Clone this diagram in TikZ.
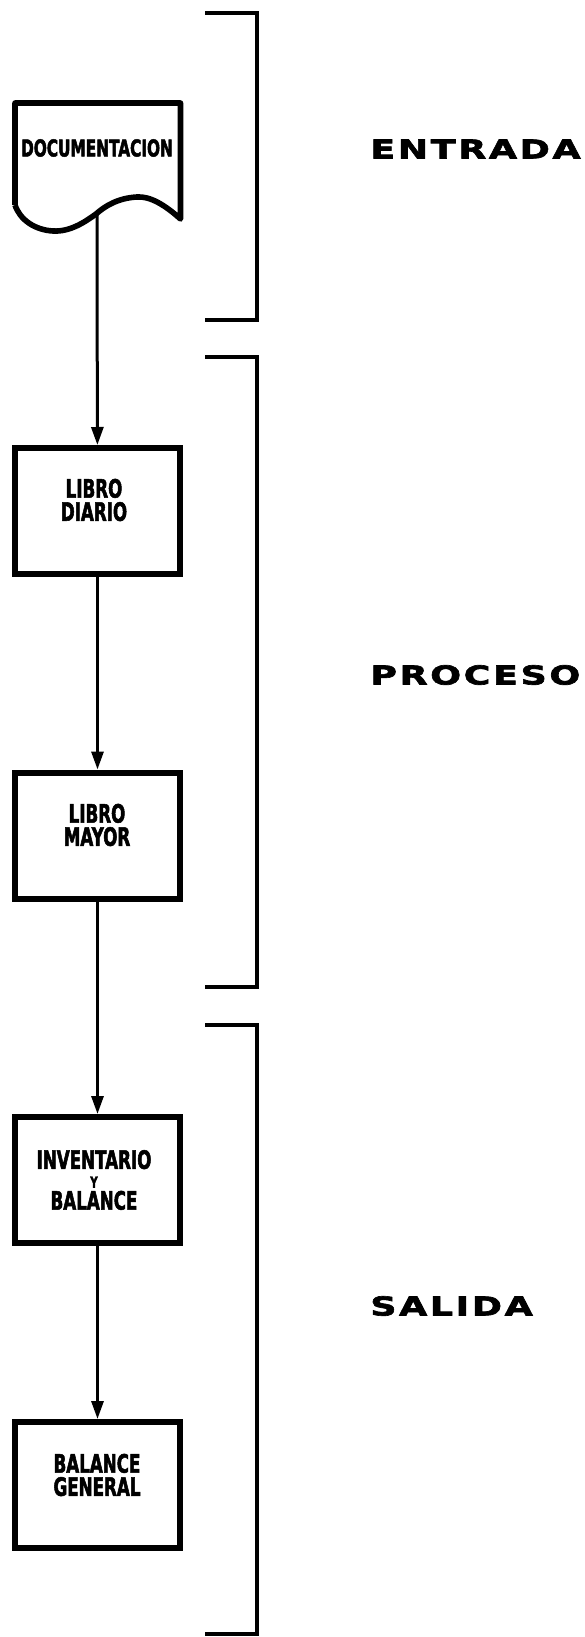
\documentclass[tikz,border=0pt]{standalone}
\usepackage{fontspec}
\usepackage{tikz}
\usetikzlibrary{arrows.meta,positioning,calc}
\newfontfamily\boxfont[FakeStretch=0.66,FakeBold=2]{DejaVu Sans}
\newfontfamily\tagfont[FakeStretch=1.4,LetterSpace=10,FakeBold=2.5]{DejaVu Sans}
\tikzset{
  flow/box/.style={draw, line width=1.5mm, minimum width=41.25mm, minimum height=31.5mm, inner sep=0pt},
  flow/doc/.style={line width=1.4mm, line join=round},
  flow/text/.style={font=\boxfont\bfseries\fontsize{18}{16.5}\selectfont, align=center, inner sep=0pt},
  flow/tag/.style={font=\tagfont\bfseries\fontsize{18.5}{20}\selectfont, anchor=west, inner sep=0pt},
  flow/brace/.style={line width=0.9mm},
  arr/.style={-{Triangle[length=4.5mm,width=3mm]}, line width=0.75mm}
}

\begin{document}
\begin{tikzpicture}[x=0.25mm, y=-0.25mm]
  \useasboundingbox (0,0) rectangle (584,1637);
  % documento de entrada
  \draw[flow/doc] (15,205) -- (15,103) -- (180.5,103) -- (180.5,219)
    .. controls (165,205) and (150,196) .. (137,197)
    .. controls (118,198) and (105,206) .. (96,214)
    .. controls (85,222) and (70,232) .. (53,231)
    .. controls (35,230) and (20,220) .. (15,205);
  \node[flow/text, font=\boxfont\bfseries\fontsize{16.5}{16}\selectfont] (doc) at (97,148) {DOCUMENTACION};
  \coordinate (doc-out) at (97,214);
  % cajas de proceso
  \node[flow/box] (diario) at (97.5,511) {};
  \node[flow/box] (mayor) at (97.5,835.5) {};
  \node[flow/box] (inv) at (97.5,1180) {};
  \node[flow/box] (general) at (97.5,1485) {};
  \node[flow/text] (diario-t) at (94,500) {LIBRO\\DIARIO};
  \node[flow/text] (mayor-t) at (97,825) {LIBRO\\MAYOR};
  \node[flow/text] (inv-t) at (94,1180) {INVENTARIO\\[-3pt]{\fontsize{11}{10}\selectfont Y}\\[-1pt]BALANCE};
  \node[flow/text] (general-t) at (97,1475) {BALANCE\\GENERAL};
  \draw[arr] (doc-out) -- (diario);
  \draw[arr] (diario) -- (mayor);
  \draw[arr] (mayor) -- (inv);
  \draw[arr] (inv) -- (general);
  % llaves
  \draw[flow/brace] (205,13) -- (257,13) -- (257,320) -- (205,320);
  \draw[flow/brace] (205,357) -- (257,357) -- (257,987) -- (205,987);
  \draw[flow/brace] (205,1025) -- (257,1025) -- (257,1634) -- (205,1634);
  \node[flow/tag] (entrada) at (370,149) {ENTRADA};
  \node[flow/tag] (proceso) at (370,675) {PROCESO};
  \node[flow/tag] (salida) at (370,1306) {SALIDA};
\end{tikzpicture}
\end{document}
